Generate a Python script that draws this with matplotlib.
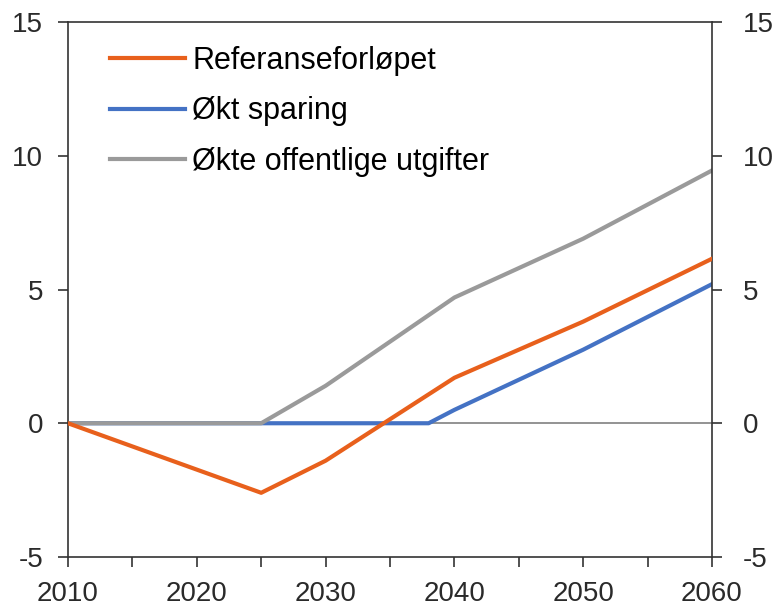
import matplotlib.pyplot as plt
from matplotlib.ticker import MultipleLocator
from matplotlib.transforms import ScaledTranslation

plt.rcParams['font.family'] = ['Liberation Sans', 'DejaVu Sans']
plt.rcParams['axes.unicode_minus'] = False

# Data (percent)
aar_ref = [2010, 2025, 2030, 2040, 2050, 2060]
referanse = [0.0, -2.6, -1.4, 1.7, 3.8, 6.15]

aar_spar = [2010, 2025, 2038, 2040, 2050, 2060]
spar = [0.0, 0.0, 0.0, 0.5, 2.75, 5.2]

aar_off = [2010, 2025, 2030, 2040, 2050, 2060]
offentlig = [0.0, 0.0, 1.4, 4.7, 6.9, 9.45]

etiketter = ['Referanseforløpet', 'Økt sparing', 'Økte offentlige utgifter']

fig = plt.figure(figsize=(7.73, 6.08), dpi=100)
ax = fig.add_axes([68 / 773, 1 - 557 / 608, (712 - 68) / 773, (557 - 22) / 608])

ax.axhline(0, color='#808080', lw=1.2, zorder=1)
l1, = ax.plot(aar_ref, referanse, color='#E8601C', lw=3, zorder=3)
l2, = ax.plot(aar_spar, spar, color='#4472C4', lw=3, zorder=2)
l3, = ax.plot(aar_off, offentlig, color='#9A9A9A', lw=3, zorder=2)

ax.set_xlim(2010, 2060)
ax.set_ylim(-5, 15)
ax.xaxis.set_major_locator(MultipleLocator(10))
ax.xaxis.set_minor_locator(MultipleLocator(5))
ax.yaxis.set_major_locator(MultipleLocator(5))

for s in ax.spines.values():
    s.set_color('#333333')
    s.set_linewidth(1.2)

ax.tick_params(axis='x', which='both', direction='out', length=7, width=1.2,
               color='#333333', labelsize=20, labelcolor='#2a2a2a', pad=10)
ax.tick_params(axis='y', which='both', direction='out', length=7, width=1.2,
               color='#333333', labelsize=20, labelcolor='#2a2a2a', pad=11,
               left=True, right=True, labelleft=True, labelright=True)

ax.legend([l1, l2, l3], etiketter, loc='upper left', frameon=False,
          fontsize=22, handlelength=2.45, handletextpad=0.25, labelspacing=0.68,
          borderpad=0, borderaxespad=0, bbox_to_anchor=(0.065, 0.956))

# hoyre etiketter litt lenger ut enn de venstre
skift = ScaledTranslation(4 / 72, 0, fig.dpi_scale_trans)
for t in ax.yaxis.get_major_ticks():
    t.label2.set_transform(t.label2.get_transform() + skift)

fig.savefig('out.png', dpi=100)
